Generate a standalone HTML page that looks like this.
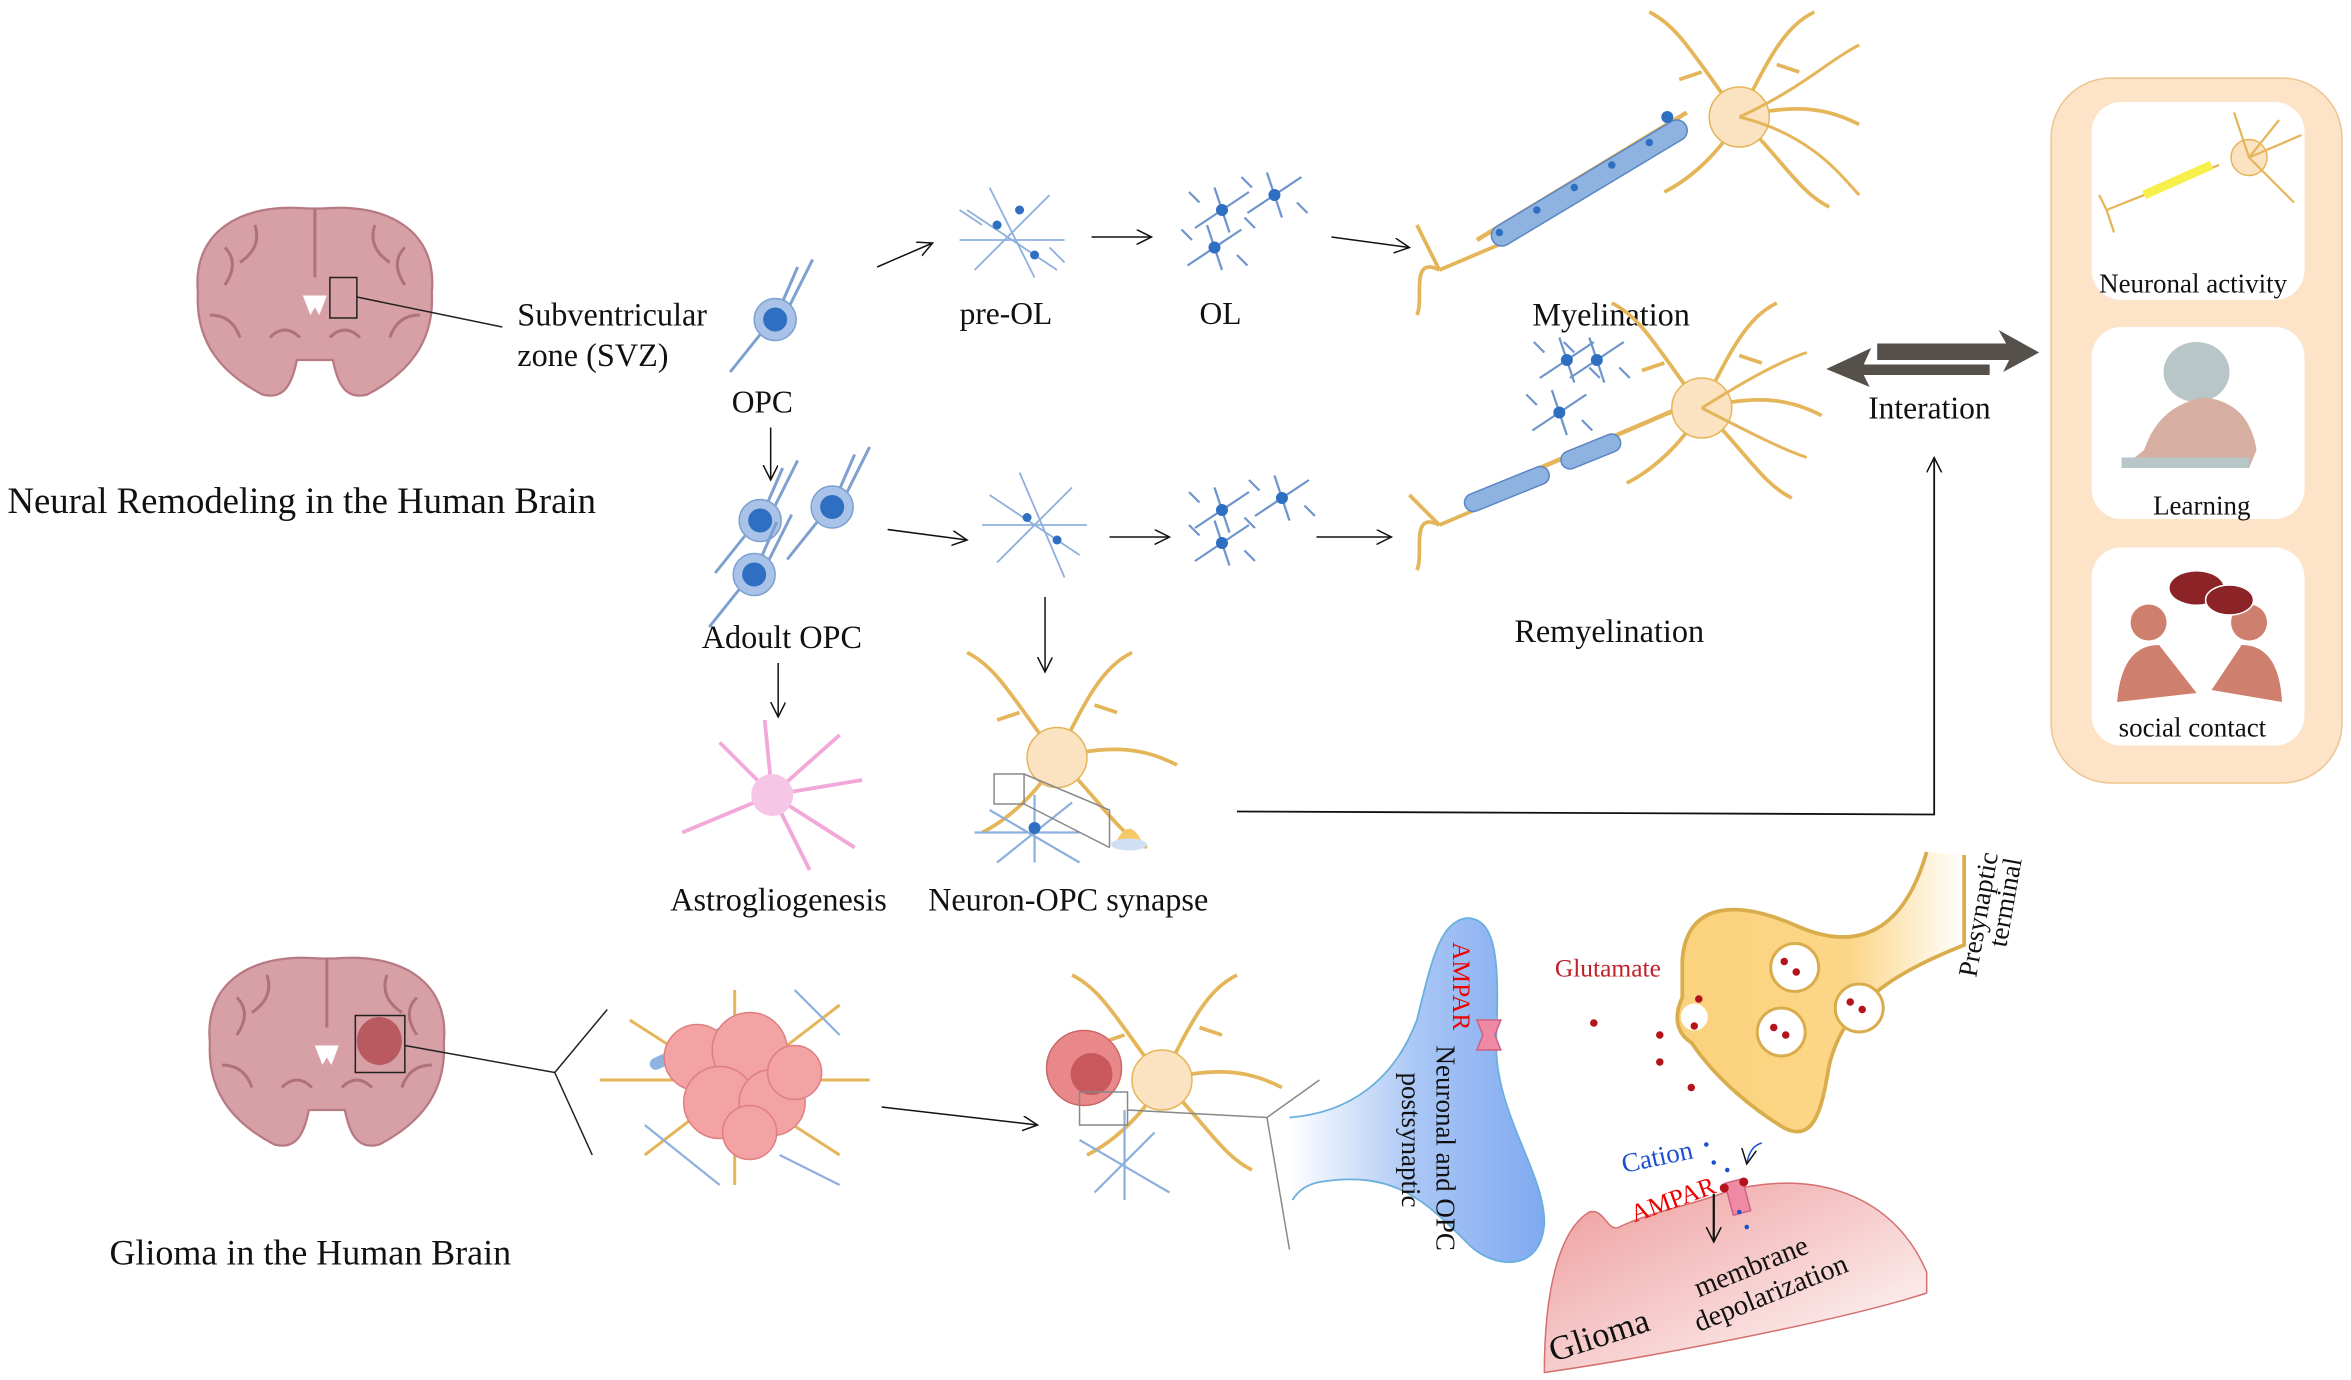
<!DOCTYPE html>
<html><head><meta charset="utf-8"><style>
html,body{margin:0;padding:0;background:#fff;}
svg{display:block;}
text{font-family:"Liberation Serif",serif;fill:#111;}
</style></head><body>
<svg width="2351" height="1380" viewBox="0 0 1568 920" preserveAspectRatio="none" xmlns="http://www.w3.org/2000/svg">
<defs>
<marker id="ah" markerWidth="12" markerHeight="12" refX="10" refY="5" orient="auto" markerUnits="userSpaceOnUse"><path d="M0,0 L10,5 L0,10" fill="none" stroke="#111" stroke-width="1"/></marker>
<linearGradient id="blue" x1="0" x2="1" y1="0" y2="0"><stop offset="0" stop-color="#fff"/><stop offset="0.5" stop-color="#a9c6f5"/><stop offset="1" stop-color="#7fa9f0"/></linearGradient>
<linearGradient id="yel" x1="0" x2="1"><stop offset="0" stop-color="#fbd27c"/><stop offset="0.6" stop-color="#fcd688"/><stop offset="1" stop-color="#fff"/></linearGradient>
<linearGradient id="red" x1="0" x2="1" y1="0" y2="1"><stop offset="0" stop-color="#ee9a9a"/><stop offset="1" stop-color="#fff"/></linearGradient>
<g id="brain">
<path d="M-78,-10 C-82,-50 -50,-70 -5,-66 L5,-66 C50,-70 82,-50 78,-10 C80,25 60,45 35,58 C20,62 15,50 12,35 L-12,35 C-15,50 -20,62 -35,58 C-60,45 -80,25 -78,-10Z" fill="#d7a0a6" stroke="#b77a82" stroke-width="1.5"/>
<path d="M0,-66 L0,-20 M-60,-40 q10,10 0,25 M-40,-55 q5,15 -10,25 M60,-40 q-10,10 0,25 M40,-55 q-5,15 10,25 M-70,5 q15,0 20,15 M70,5 q-15,0 -20,15 M-30,20 q10,-10 20,0 M30,20 q-10,-10 -20,0" fill="none" stroke="#b0727a" stroke-width="2"/>
<path d="M-8,-8 L-3,5 L0,0 L3,5 L8,-8Z" fill="#fff"/>
</g>
<g id="cell"><path d="M-10,10 L-30,35 M10,-10 L25,-40 M5,-12 L15,-35" stroke="#7da0d0" stroke-width="2" fill="none"/><ellipse cx="0" cy="0" rx="14" ry="14" fill="#a9c3e8" stroke="#7da0d0"/><circle cx="0" cy="0" r="8" fill="#2f6fc2"/></g>
<g id="ol"><path d="M-18,12 L18,-12 M-5,-15 L5,15 M-15,-5 L-22,-12 M15,5 L22,12" stroke="#6f95cc" stroke-width="1.5" fill="none"/><circle r="4" fill="#2f6fc2"/></g>
<g id="neur"><path d="M0,0 C-30,-40 -40,-60 -60,-70 M0,0 C20,-40 30,-60 50,-70 M0,0 C40,-10 60,-5 80,5 M0,0 C30,30 40,50 60,60 M0,0 C-10,20 -30,40 -50,50 M25,-35 L40,-30 M-25,-30 L-40,-25" stroke="#e5b55a" stroke-width="2.5" fill="none"/><circle r="20" fill="#fbe3c2" stroke="#e5b55a"/></g>
</defs>

<text x="5" y="342" font-size="24.5">Neural Remodeling in the Human Brain</text>
<use href="#brain" x="210" y="205"/>
<rect x="220" y="185" width="18" height="27" fill="none" stroke="#222"/>
<line x1="238" y1="198" x2="335" y2="218" stroke="#222"/>
<text x="345" y="217" font-size="21.5">Subventricular</text>
<text x="345" y="244" font-size="21.5">zone (SVZ)</text>

<use href="#cell" x="517" y="213"/>
<text x="488" y="275" font-size="21">OPC</text>
<line x1="585" y1="178" x2="622" y2="162" stroke="#111" marker-end="url(#ah)"/>
<g stroke="#8eb0de" stroke-width="1.2" fill="none"><path d="M645,140 l60,40 M650,180 l50,-50 M660,125 l30,60 M640,160 l70,0 M655,150 l-15,-10 M700,165 l10,10"/></g>
<circle cx="665" cy="150" r="3" fill="#2f6fc2"/><circle cx="690" cy="170" r="3" fill="#2f6fc2"/><circle cx="680" cy="140" r="3" fill="#2f6fc2"/>
<text x="640" y="216" font-size="21">pre-OL</text>
<line x1="728" y1="158" x2="768" y2="158" stroke="#111" marker-end="url(#ah)"/>
<use href="#ol" x="815" y="140"/><use href="#ol" x="850" y="130"/><use href="#ol" x="810" y="165"/>
<text x="800" y="216" font-size="21">OL</text>
<line x1="888" y1="158" x2="940" y2="165" stroke="#111" marker-end="url(#ah)"/>
<path d="M960,180 C940,170 950,200 945,210 M960,180 L945,150 M960,180 L1000,163" stroke="#e5b55a" stroke-width="2.5" fill="none"/>
<line x1="985" y1="160" x2="1125" y2="75" stroke="#e5b55a" stroke-width="3"/>
<g fill="#8fb3e0" stroke="#5b86c4"><rect x="985" y="115" width="150" height="14" rx="7" transform="rotate(-31 1060 122)"/></g>
<g fill="#2f6fc2"><circle cx="1000" cy="155" r="2.5"/><circle cx="1025" cy="140" r="2.5"/><circle cx="1050" cy="125" r="2.5"/><circle cx="1075" cy="110" r="2.5"/><circle cx="1100" cy="95" r="2.5"/><circle cx="1112" cy="78" r="4"/></g>
<use href="#neur" x="1160" y="78"/>
<path d="M1160,78 C1200,60 1220,40 1240,30 M1160,78 C1210,90 1230,120 1240,130" stroke="#e5b55a" stroke-width="2" fill="none"/>
<text x="1022" y="217" font-size="21.5">Myelination</text>

<line x1="514" y1="285" x2="514" y2="320" stroke="#111" marker-end="url(#ah)"/>
<use href="#cell" x="507" y="347"/><use href="#cell" x="555" y="338"/><use href="#cell" x="503" y="383"/>
<text x="468" y="432" font-size="21.5">Adoult OPC</text>
<line x1="592" y1="353" x2="645" y2="360" stroke="#111" marker-end="url(#ah)"/>
<g stroke="#8eb0de" stroke-width="1.2" fill="none"><path d="M660,330 l60,40 M665,375 l50,-50 M680,315 l30,70 M655,350 l70,0"/></g>
<circle cx="685" cy="345" r="3" fill="#2f6fc2"/><circle cx="705" cy="360" r="3" fill="#2f6fc2"/>
<line x1="740" y1="358" x2="780" y2="358" stroke="#111" marker-end="url(#ah)"/>
<use href="#ol" x="815" y="340"/><use href="#ol" x="855" y="332"/><use href="#ol" x="815" y="362"/>
<line x1="878" y1="358" x2="928" y2="358" stroke="#111" marker-end="url(#ah)"/>
<path d="M960,350 C940,340 950,370 945,380 M960,350 L940,330 M960,350 L1000,333" stroke="#e5b55a" stroke-width="2.5" fill="none"/>
<line x1="985" y1="330" x2="1125" y2="270" stroke="#e5b55a" stroke-width="3"/>
<rect x="975" y="320" width="60" height="12" rx="6" fill="#8fb3e0" stroke="#5b86c4" transform="rotate(-22 1005 326)"/>
<rect x="1040" y="295" width="42" height="12" rx="6" fill="#8fb3e0" stroke="#5b86c4" transform="rotate(-22 1061 301)"/>
<use href="#ol" x="1045" y="240"/><use href="#ol" x="1040" y="275"/><use href="#ol" x="1065" y="240"/>
<use href="#neur" x="1135" y="272"/>
<path d="M1135,272 C1170,250 1190,240 1205,235 M1135,272 C1170,290 1190,300 1205,305" stroke="#e5b55a" stroke-width="2" fill="none"/>
<text x="1010" y="428" font-size="21.5">Remyelination</text>

<line x1="519" y1="442" x2="519" y2="478" stroke="#111" marker-end="url(#ah)"/>
<g stroke="#f2a8d8" stroke-width="2.5" fill="none"><path d="M515,530 L455,555 M515,530 L480,495 M515,530 L510,480 M515,530 L560,490 M515,530 L575,520 M515,530 L570,565 M515,530 L540,580"/></g>
<circle cx="515" cy="530" r="14" fill="#f6c6e6"/>
<text x="447" y="607" font-size="21.5">Astrogliogenesis</text>
<line x1="697" y1="398" x2="697" y2="448" stroke="#111" marker-end="url(#ah)"/>
<use href="#neur" x="705" y="505"/>
<g stroke="#8eb0de" stroke-width="1.5" fill="none"><path d="M660,540 l60,35 M665,575 l50,-40 M690,530 l0,45 M650,555 l70,0"/></g>
<circle cx="690" cy="552" r="4" fill="#2f6fc2"/>
<rect x="663" y="516" width="20" height="20" fill="none" stroke="#888"/>
<path d="M683,516 L740,540 L740,565 M683,536 L740,565" stroke="#888" fill="none"/>
<path d="M745,560 q8,-15 16,0 q-8,8 -16,0" fill="#f6c867"/><ellipse cx="753" cy="563" rx="12" ry="4" fill="#cfe0f4"/>
<text x="619" y="607" font-size="21.5">Neuron-OPC synapse</text>
<polyline points="825,541 1290,543 1290,305" fill="none" stroke="#111" stroke-width="1.2" marker-end="url(#ah)"/>

<path d="M1252,229 L1338,229 L1333,220 L1360,235 L1336,248 L1340,240 L1252,240Z" fill="#555049"/>
<path d="M1327,243 L1243,243 L1248,232 L1218,246 L1247,258 L1243,250 L1327,250Z" fill="#555049"/>
<text x="1246" y="279" font-size="21">Interation</text>

<rect x="1368" y="52" width="194" height="470" rx="40" fill="#fde3c8" stroke="#efc58e"/>
<rect x="1395" y="68" width="142" height="132" rx="20" fill="#fff"/>
<rect x="1395" y="218" width="142" height="128" rx="20" fill="#fff"/>
<rect x="1395" y="365" width="142" height="132" rx="20" fill="#fff"/>
<path d="M1405,140 L1480,110 M1405,140 l-5,-10 M1405,140 l5,15" stroke="#e5b55a" stroke-width="1.5" fill="none"/>
<path d="M1430,130 L1475,110" stroke="#f7f04a" stroke-width="6"/>
<circle cx="1500" cy="105" r="12" fill="#fbe3c2" stroke="#e5b55a"/>
<path d="M1500,105 L1490,75 M1500,105 L1535,90 M1500,105 L1530,135 M1500,105 L1520,80" stroke="#e5b55a" stroke-width="1.5" fill="none"/>
<text x="1400" y="195" font-size="18">Neuronal activity</text>
<ellipse cx="1465" cy="248" rx="22" ry="20" fill="#b8c6c8"/>
<path d="M1430,300 Q1440,270 1470,265 Q1500,268 1505,300 L1500,312 L1415,312 Z" fill="#d7aea2"/>
<path d="M1415,305 L1500,305 L1500,312 L1415,312Z" fill="#b8c6c8"/>
<text x="1436" y="343" font-size="18">Learning</text>
<circle cx="1433" cy="415" r="12" fill="#cf7f6d"/><circle cx="1500" cy="415" r="12" fill="#cf7f6d"/>
<path d="M1412,468 Q1415,430 1440,430 L1465,462 L1412,468Z" fill="#cf7f6d"/>
<path d="M1522,468 Q1520,430 1495,430 L1475,460 L1522,468Z" fill="#cf7f6d"/>
<ellipse cx="1465" cy="392" rx="18" ry="11" fill="#8c2427"/><ellipse cx="1487" cy="400" rx="16" ry="10" fill="#8c2427" stroke="#fff"/>
<text x="1413" y="491" font-size="18">social contact</text>

<use href="#brain" x="218" y="705"/>
<ellipse cx="253" cy="694" rx="15" ry="16" fill="#b85a60"/>
<rect x="237" y="677" width="33" height="38" fill="none" stroke="#222"/>
<polyline points="270,697 370,715" fill="none" stroke="#222"/>
<polyline points="405,673 370,715 395,770" fill="none" stroke="#222"/>
<text x="73" y="843" font-size="24">Glioma in the Human Brain</text>

<g stroke="#e5b55a" stroke-width="2" fill="none"><path d="M400,720 L580,720 M420,680 L560,770 M430,770 L560,670 M490,660 L490,790"/></g>
<g stroke="#8eb0de" stroke-width="1.5" fill="none"><path d="M430,750 L480,790 M520,770 L560,790 M530,660 l30,30"/></g>
<rect x="430" y="690" width="80" height="8" rx="4" fill="#8fb3e0" transform="rotate(-25 470 694)"/>
<g fill="#f3a3a3" stroke="#e07f80"><circle cx="465" cy="705" r="22"/><circle cx="500" cy="700" r="25"/><circle cx="480" cy="735" r="24"/><circle cx="515" cy="735" r="22"/><circle cx="530" cy="715" r="18"/><circle cx="500" cy="755" r="18"/></g>
<line x1="588" y1="738" x2="692" y2="750" stroke="#111" marker-end="url(#ah)"/>
<use href="#neur" x="775" y="720"/>
<g stroke="#8eb0de" stroke-width="1.5" fill="none"><path d="M720,760 l60,35 M730,795 l40,-40 M750,740 l0,60"/></g>
<circle cx="723" cy="712" r="25" fill="#e9888a" stroke="#c66"/>
<circle cx="728" cy="716" r="14" fill="#c8585c"/>
<rect x="720" y="728" width="32" height="22" fill="none" stroke="#888"/>
<polyline points="752,740 845,745 880,720" fill="none" stroke="#888"/>
<line x1="845" y1="745" x2="860" y2="833" stroke="#888"/>

<path d="M860,745 C900,742 930,720 945,680 C955,640 960,615 978,612 C998,612 1000,640 998,690 C995,740 1030,780 1030,815 C1028,850 995,845 980,830 C950,800 930,780 880,788 C870,790 865,795 862,800" fill="url(#blue)" stroke="#6bb0dc" stroke-width="1.2"/>
<path d="M985,680 l16,0 l-4,10 l4,10 l-16,0 l4,-10Z" fill="#ef8aa5" stroke="#d06080"/>
<text transform="translate(969,628) rotate(90)" font-size="17" style="fill:#e00">AMPAR</text>
<text transform="translate(958,697) rotate(90)" font-size="18">Neuronal and OPC</text>
<text transform="translate(935,715) rotate(90)" font-size="18">postsynaptic</text>

<path d="M1285,568 C1270,620 1240,635 1200,618 C1160,600 1125,600 1122,640 L1122,665 C1115,680 1120,690 1128,695 C1145,720 1170,740 1190,752 C1210,762 1215,740 1220,710 C1230,670 1260,650 1310,630 L1310,570" fill="url(#yel)" stroke="#d9ac4c" stroke-width="2.5"/>
<g fill="#fff" stroke="#d9ac4c" stroke-width="2"><circle cx="1197" cy="645" r="16"/><circle cx="1240" cy="672" r="16"/><circle cx="1188" cy="688" r="16"/></g>
<circle cx="1130" cy="678" r="9" fill="#fff"/>
<g fill="#b5121b"><circle cx="1190" cy="641" r="2.5"/><circle cx="1198" cy="648" r="2.5"/><circle cx="1234" cy="668" r="2.5"/><circle cx="1242" cy="673" r="2.5"/><circle cx="1183" cy="685" r="2.5"/><circle cx="1191" cy="690" r="2.5"/><circle cx="1133" cy="666" r="2.5"/><circle cx="1130" cy="684" r="2.5"/><circle cx="1063" cy="682" r="2.5"/><circle cx="1107" cy="690" r="2.5"/><circle cx="1107" cy="708" r="2.5"/><circle cx="1128" cy="725" r="2.5"/></g>
<text x="1037" y="651" font-size="17" style="fill:#c0202a">Glutamate</text>
<text transform="translate(1318,652) rotate(-80)" font-size="18">Presynaptic</text>
<text transform="translate(1338,632) rotate(-80)" font-size="18">terminal</text>

<path d="M1030,915 C1030,860 1040,820 1060,808 C1070,805 1072,822 1080,818 C1100,808 1130,803 1150,795 C1200,780 1260,790 1285,848 L1285,862 C1230,880 1100,905 1030,915Z" fill="url(#red)" stroke="#d57070" stroke-width="1"/>
<rect x="1153" y="787" width="12" height="22" fill="#ef8aa5" stroke="#d06080" transform="rotate(-15 1159 798)"/>
<circle cx="1150" cy="792" r="3" fill="#b5121b"/><circle cx="1163" cy="788" r="3" fill="#b5121b"/>
<g fill="#1b4fd0"><circle cx="1138" cy="763" r="1.5"/><circle cx="1143" cy="775" r="1.5"/><circle cx="1152" cy="780" r="1.5"/><circle cx="1160" cy="808" r="1.5"/><circle cx="1165" cy="818" r="1.5"/></g>
<path d="M1175,762 q-8,2 -10,14" fill="none" stroke="#1b4fd0" marker-end="url(#ah)"/>
<text transform="translate(1083,782) rotate(-12)" font-size="18" style="fill:#1b4fd0">Cation</text>
<text transform="translate(1090,815) rotate(-20)" font-size="17" style="fill:#e00">AMPAR</text>
<line x1="1143" y1="796" x2="1143" y2="828" stroke="#111" stroke-width="1.5" marker-end="url(#ah)"/>
<text transform="translate(1133,865) rotate(-22)" font-size="19">membrane</text>
<text transform="translate(1133,888) rotate(-22)" font-size="19">depolarization</text>
<text transform="translate(1036,908) rotate(-18)" font-size="23">Glioma</text>
</svg>
</body></html>
